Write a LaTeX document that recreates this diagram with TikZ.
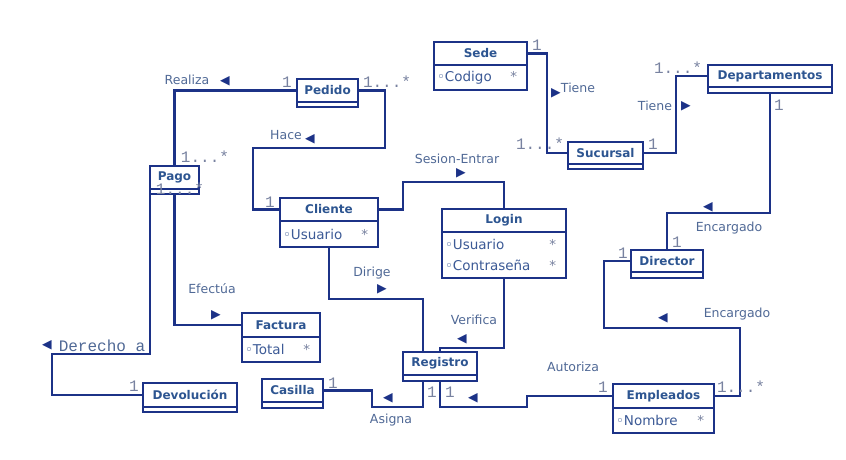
\documentclass[tikz,border=0pt]{standalone}
\usepackage{fontspec}
\setmainfont{DejaVu Sans}
\setmonofont{Liberation Mono}
\usepackage{xcolor}
\usetikzlibrary{positioning}
\definecolor{umlline}{RGB}{28,50,135}
\definecolor{umlname}{RGB}{45,85,145}
\definecolor{umllabel}{RGB}{80,105,150}
\definecolor{umlmult}{RGB}{120,130,160}
\definecolor{umlattr}{RGB}{60,90,150}
\newcommand{\attrline}[1]{◦#1\hspace{0pt plus 1filll}{\color{umlmult}*}\kern7pt}
\tikzset{
  classbox/.style={draw=umlline, line width=2.5pt, fill=white, outer sep=0pt, inner sep=0pt,
                   font=\bfseries\fontsize{12}{14}\selectfont, text=umlname},
  attrbox/.style={draw=umlline, line width=2.5pt, fill=white, outer sep=0pt, inner xsep=3pt,
                  inner ysep=0pt, align=left, font=\fontsize{13.5}{21}\selectfont, text=umlattr},
  assoc/.style={draw=umlline, line width=2.5pt},
  rolelabel/.style={font=\fontsize{12.5}{15}\selectfont, text=umllabel, inner sep=0pt},
  multlabel/.style={font=\ttfamily\fontsize{16}{18}\selectfont, text=umlmult, inner sep=0pt},
  dirtip/.style={font=\fontsize{12.5}{13}\selectfont, text=umlline, inner sep=0pt}
}
\begin{document}
\begin{tikzpicture}[x=1pt, y=-1pt]
\fill[white] (0,0) rectangle (846,460);
\useasboundingbox (0,0) rectangle (846,460);

% Classes
\node[classbox, minimum width=61, minimum height=23] (pedido) at (327.5,90.5) {Pedido};
\node[attrbox, minimum width=61, minimum height=5, below=0pt of pedido] (pedidoattr) {};

\node[classbox, minimum width=93, minimum height=23] (sede) at (480.5,53.5) {Sede};
\node[attrbox, minimum width=93, text width=87, minimum height=25, below=0pt of sede] (sedeattr) {\attrline{Codigo}};

\node[classbox, minimum width=75, minimum height=22] (sucursal) at (605.5,153) {Sucursal};
\node[attrbox, minimum width=75, minimum height=5, below=0pt of sucursal] (sucursalattr) {};

\node[classbox, minimum width=124, minimum height=22] (departamentos) at (770,76) {Departamentos};
\node[attrbox, minimum width=124, minimum height=6, below=0pt of departamentos] (departamentosattr) {};

\node[classbox, minimum width=49, minimum height=23] (pago) at (174.5,177.5) {Pago};
\node[attrbox, minimum width=49, minimum height=5, below=0pt of pago] (pagoattr) {};

\node[classbox, minimum width=98, minimum height=23] (cliente) at (329,209.5) {Cliente};
\node[attrbox, minimum width=98, text width=92, minimum height=26, below=0pt of cliente] (clienteattr) {\attrline{Usuario}};

\node[classbox, minimum width=124, minimum height=23] (login) at (504,220.5) {Login};
\node[attrbox, minimum width=124, text width=118, minimum height=46, below=0pt of login] (loginattr) {\attrline{Usuario}\\\attrline{Contraseña}};

\node[classbox, minimum width=72, minimum height=22] (director) at (667,261) {Director};
\node[attrbox, minimum width=72, minimum height=6, below=0pt of director] (directorattr) {};

\node[classbox, minimum width=78, minimum height=24] (factura) at (281,325) {Factura};
\node[attrbox, minimum width=78, text width=72, minimum height=25, below=0pt of factura] (facturaattr) {\attrline{Total}};

\node[classbox, minimum width=74, minimum height=23] (registro) at (440,363.5) {Registro};
\node[attrbox, minimum width=74, minimum height=6, below=0pt of registro] (registroattr) {};

\node[classbox, minimum width=61, minimum height=23] (casilla) at (292.5,390.5) {Casilla};
\node[attrbox, minimum width=61, minimum height=6, below=0pt of casilla] (casillaattr) {};

\node[classbox, minimum width=94, minimum height=24] (devolucion) at (190,395) {Devolución};
\node[attrbox, minimum width=94, minimum height=5, below=0pt of devolucion] (devolucionattr) {};

\node[classbox, minimum width=101, minimum height=24] (empleados) at (663.5,396) {Empleados};
\node[attrbox, minimum width=101, text width=95, minimum height=25, below=0pt of empleados] (empleadosattr) {\attrline{Nombre}};

% Associations
\draw[assoc] (pedido.west) -| (pago.north);
\draw[assoc] (pedido.east) -| (385,148) -- (253,148) |- (cliente.west);
\draw[assoc] (pagoattr.south west) |- (52,354) |- (devolucion.west);
\draw[assoc] (pagoattr.south) |- (factura.west);
\draw[assoc] (cliente.east) -| (403,182) -| (login.north);
\draw[assoc] (clienteattr.south) |- (423,299) -- ([xshift=-17pt]registro.north);
\draw[assoc] (loginattr.south) |- (440,348) -- (registro.north);
\draw[assoc] (casilla.east) -| (372,407) -| ([xshift=-17pt]registroattr.south);
\draw[assoc] (registroattr.south) |- (527,407) |- (empleados.west);
\draw[assoc] (departamentosattr.south) -- ++(0,120) -| (director.north);
\draw[assoc] (director.west) -| (604,328) -| (740,396) -- (empleados.east);
\draw[assoc] (sede.east) -| (547,153) -- (sucursal.west);
\draw[assoc] (sucursal.east) -| (676,76) -- (departamentos.west);

% Role names and reading direction
\node[rolelabel] (lbl-realiza) at (187,80) {Realiza};
\node[dirtip] (tip-realiza) at (225,81) {◀};
\node[rolelabel] (lbl-hace) at (286,135) {Hace};
\node[dirtip] (tip-hace) at (310,139) {◀};
\node[rolelabel] (lbl-sesion) at (457,159) {Sesion-Entrar};
\node[dirtip] (tip-sesion) at (461,173) {▶};
\node[rolelabel] (lbl-dirige) at (372,273) {Dirige};
\node[dirtip] (tip-dirige) at (382,289) {▶};
\node[rolelabel] (lbl-verifica) at (474,320) {Verifica};
\node[dirtip] (tip-verifica) at (462,339) {◀};
\node[rolelabel] (lbl-efectua) at (212,289) {Efectúa};
\node[dirtip] (tip-efectua) at (216,315) {▶};
\node[multlabel, text=umllabel] (lbl-derecho) at (102,346) {Derecho a};
\node[dirtip] (tip-derecho) at (47,345) {◀};
\node[rolelabel] (lbl-asigna) at (391,420) {Asigna};
\node[dirtip] (tip-asigna) at (388,398) {◀};
\node[rolelabel] (lbl-autoriza) at (573,367) {Autoriza};
\node[dirtip] (tip-autoriza) at (473,398) {◀};
\node[rolelabel] (lbl-encargado-a) at (729,228) {Encargado};
\node[dirtip] (tip-encargado-a) at (708,207) {◀};
\node[rolelabel] (lbl-encargado-b) at (737,314) {Encargado};
\node[dirtip] (tip-encargado-b) at (663,318) {◀};
\node[rolelabel] (lbl-tiene-a) at (578,88) {Tiene};
\node[dirtip] (tip-tiene-a) at (556,93) {▶};
\node[rolelabel] (lbl-tiene-b) at (655,106) {Tiene};
\node[dirtip] (tip-tiene-b) at (686,106) {▶};

% Multiplicities
\node[multlabel] (m-pedido-w) at (287,82) {1};
\node[multlabel] (m-pedido-e) at (387,82) {1...*};
\node[multlabel] (m-pago-n) at (205,157) {1...*};
\node[multlabel] (m-pago-s) at (180,189) {1...*};
\node[multlabel] (m-cliente) at (270,202) {1};
\node[multlabel] (m-devolucion) at (134,386) {1};
\node[multlabel] (m-casilla) at (333,383) {1};
\node[multlabel] (m-registro-a) at (432,392) {1};
\node[multlabel] (m-registro-b) at (450,392) {1};
\node[multlabel] (m-empleados-w) at (603,387) {1};
\node[multlabel] (m-empleados-e) at (741,387) {1...*};
\node[multlabel] (m-director-w) at (623,253) {1};
\node[multlabel] (m-director-n) at (677,242) {1};
\node[multlabel] (m-departamentos-s) at (779,105) {1};
\node[multlabel] (m-departamentos-w) at (678,68) {1...*};
\node[multlabel] (m-sede) at (537,45) {1};
\node[multlabel] (m-sucursal-w) at (540,144) {1...*};
\node[multlabel] (m-sucursal-e) at (653,144) {1};
\end{tikzpicture}
\end{document}
